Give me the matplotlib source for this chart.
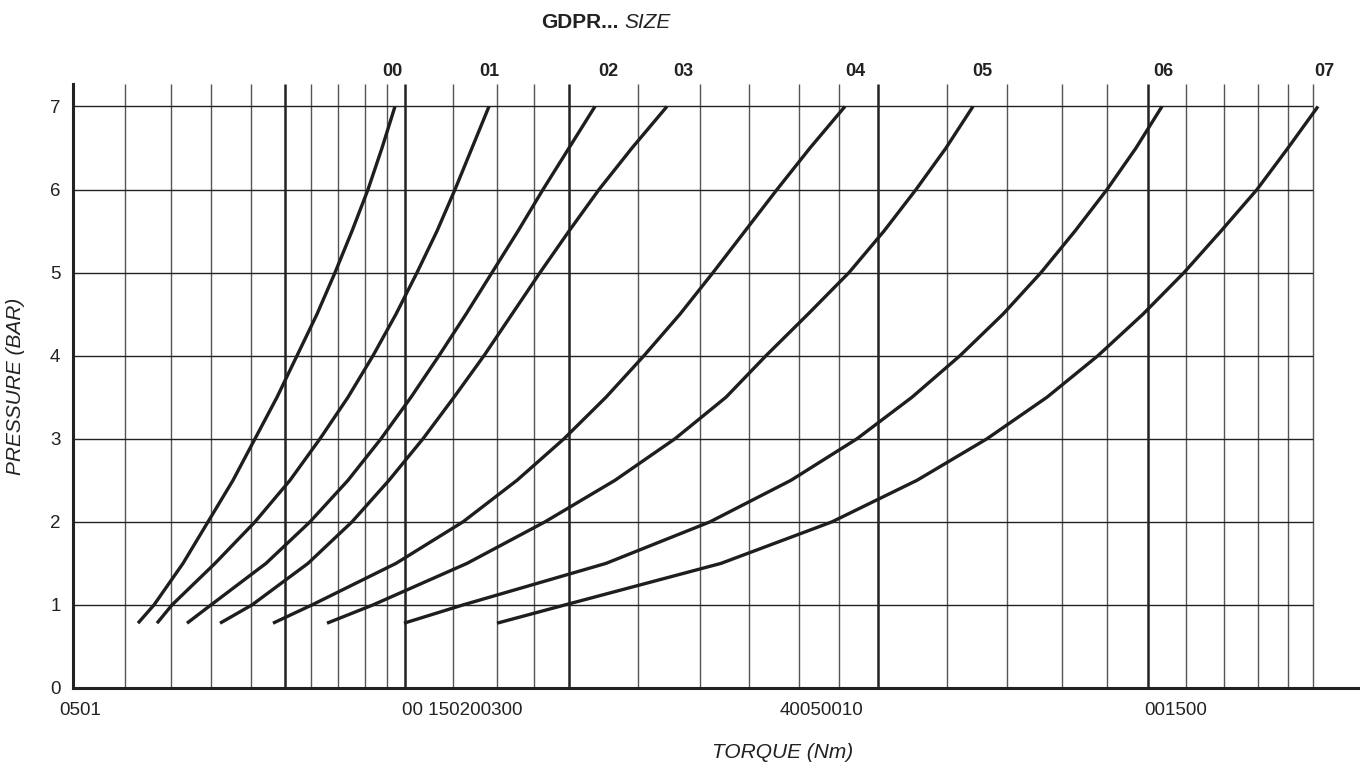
import numpy as np
import matplotlib.pyplot as plt

plt.rcParams['font.family'] = ['Liberation Sans', 'DejaVu Sans']

# x axis is in chart units (the printed torque scale is not a regular one)
grid_x = [125, 171, 211, 251, 285, 311, 338, 365, 387, 405, 453, 497, 534, 569,
          638, 700, 749, 799, 839, 878, 947, 1007, 1062, 1107, 1148, 1186, 1224,
          1258, 1288, 1313]
major_x = [285, 405, 569, 878, 1148]
pressure_levels = [1, 2, 3, 4, 5, 6, 7]

tick_pos = [80, 462, 822, 1176]
tick_text = ['0501', '00 150200300', '40050010', '001500']

sizes = ['00', '01', '02', '03', '04', '05', '06', '07']
pressure = [0.78, 1, 1.5, 2, 2.5, 3, 3.5, 4, 4.5, 5, 5.5, 6, 6.5, 7]
torque = {
    '00': [138, 154, 183, 208, 233, 255, 277, 297, 317, 335, 352, 368, 382, 395],
    '01': [157, 172, 215, 255, 290, 320, 348, 373, 396, 417, 437, 455, 472, 489],
    '02': [187, 211, 266, 310, 348, 381, 411, 439, 466, 492, 518, 543, 569, 595],
    '03': [220, 252, 308, 352, 389, 423, 454, 484, 512, 540, 569, 599, 632, 667],
    '04': [273, 312, 396, 463, 517, 564, 606, 644, 680, 713, 745, 777, 810, 845],
    '05': [327, 373, 467, 545, 615, 675, 726, 766, 808, 849, 884, 916, 946, 973],
    '06': [404, 463, 606, 710, 791, 857, 912, 960, 1003, 1041, 1075, 1107, 1136, 1162],
    '07': [497, 565, 721, 832, 917, 987, 1047, 1098, 1143, 1184, 1221, 1257, 1288, 1318],
}
label_x = [392, 489, 608, 683, 855, 982, 1163, 1324]

fig = plt.figure(figsize=(13.6, 7.68), dpi=100)
ax = fig.add_axes([73 / 1360, 80 / 768, 1 - 73 / 1360, 604 / 768])
ax.set_xlim(73, 1360)
ax.set_ylim(0, 7.27)

minor_x = [x for x in grid_x if x not in major_x]
ax.vlines(minor_x, 0, 7.27, color='#555555', lw=1.0)
ax.vlines(major_x, 0, 7.27, color='#222222', lw=1.8)
ax.hlines(pressure_levels, 73, 1313, color='#222222', lw=1.0)

for s in sizes:
    ax.plot(torque[s], pressure, color='#1e1e1e', lw=2.4,
            solid_capstyle='butt', solid_joinstyle='round')

for s, lx in zip(sizes, label_x):
    ax.text(lx, 7.42, s, ha='center', va='center', fontsize=13,
            fontweight='bold', color='#222222')

for side in ['top', 'right']:
    ax.spines[side].set_visible(False)
ax.spines['left'].set_linewidth(2.2)
ax.spines['bottom'].set_linewidth(2.2)
ax.spines['left'].set_color('#222222')
ax.spines['bottom'].set_color('#222222')

ax.set_yticks(range(0, 8))
ax.set_xticks(tick_pos)
ax.set_xticklabels(tick_text)
ax.tick_params(axis='both', length=0, labelsize=13.5, colors='#222222')
ax.tick_params(axis='y', pad=9)
ax.tick_params(axis='x', pad=10)

ax.set_xlabel('TORQUE (Nm)', fontsize=15, style='italic', color='#222222')
ax.xaxis.label.set_va('center')
ax.xaxis.set_label_coords((783 - 73) / (1360 - 73), -(753 - 688) / 604)
ax.set_ylabel('PRESSURE (BAR)', fontsize=15, style='italic', color='#222222',
              labelpad=18)

fig.text(0.455, 0.971, 'GDPR...', ha='right', va='center', fontsize=15,
         fontweight='bold', color='#222222')
fig.text(0.459, 0.971, 'SIZE', ha='left', va='center', fontsize=15,
         style='italic', color='#222222')

fig.savefig('out.png', dpi=100)
